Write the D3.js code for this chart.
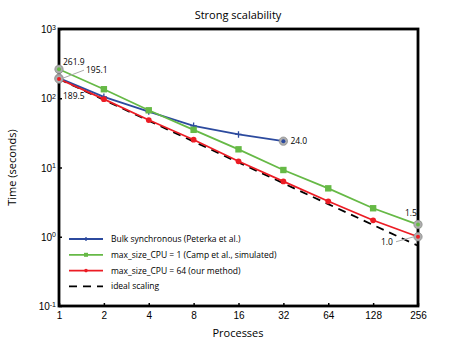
<!DOCTYPE html>
<html>
<head>
<meta charset="utf-8">
<script src="https://cdn.jsdelivr.net/npm/d3@7"></script>
<style>
  body { margin: 0; background: #fff; }
  svg { font-family: "Open Sans", "Lato", sans-serif; }
</style>
</head>
<body>
<div id="chart"></div>
<script>
// data
const processes = [1, 2, 4, 8, 16, 32, 64, 128, 256];
const bulkSync = [195.1, 105, 64, 40, 30, 24.0];
const campSim = [261.9, 135, 67, 35, 18.3, 9.2, 5.0, 2.58, 1.5];
const ourMethod = [189.5, 97, 48.5, 25.2, 12.3, 6.3, 3.25, 1.73, 1.0];
const idealBase = 189.5;
const yTicks = [0.1, 1, 10, 100, 1000];
const yTickExp = ["-1", "0", "1", "2", "3"];

const series = [
  { name: "Bulk synchronous (Peterka et al.)", values: bulkSync, color: "#2c4a9e", marker: "plus" },
  { name: "max_size_CPU = 1 (Camp et al., simulated)", values: campSim, color: "#66b946", marker: "square" },
  { name: "max_size_CPU = 64 (our method)", values: ourMethod, color: "#ec1c24", marker: "dot" }
];

const W = 452, H = 343;
const margin = { top: 29, right: 34, bottom: 37, left: 59 };
const width = W - margin.left - margin.right;
const height = H - margin.top - margin.bottom;

const svg = d3.select("#chart").append("svg")
  .attr("width", W).attr("height", H);

const g = svg.append("g")
  .attr("transform", `translate(${margin.left},${margin.top})`);

const x = d3.scaleLog().base(2).domain([1, 256]).range([0, width]);
const y = d3.scaleLog().domain([0.1, 1000]).range([height, 0]);

// Title & axis labels
svg.append("text")
  .attr("x", 238).attr("y", 19)
  .attr("text-anchor", "middle")
  .style("font-size", "11px")
  .text("Strong scalability");

svg.append("text")
  .attr("x", 238).attr("y", 337)
  .attr("text-anchor", "middle")
  .style("font-size", "11px")
  .text("Processes");

svg.append("text")
  .attr("transform", `translate(16,${margin.top + height / 2}) rotate(-90)`)
  .attr("text-anchor", "middle")
  .style("font-size", "11px")
  .text("Time (seconds)");

// Axes (ticks point inward)
const xAxis = g.append("g")
  .attr("transform", `translate(0,${height})`)
  .call(d3.axisBottom(x).tickValues(processes).tickFormat(d3.format("d"))
    .tickSizeInner(-3).tickSizeOuter(0).tickPadding(6));
xAxis.select(".domain").remove();
xAxis.selectAll(".tick line").attr("stroke-width", 1.5);
xAxis.selectAll("text").style("font-size", "10px").attr("fill", "#000");

const yAxis = g.append("g")
  .call(d3.axisLeft(y).tickValues(yTicks).tickFormat("")
    .tickSizeInner(-3).tickSizeOuter(0));
yAxis.select(".domain").remove();
yAxis.selectAll(".tick line").attr("stroke-width", 1.5);
yAxis.selectAll(".tick").append("text")
  .attr("x", -3).attr("dy", "0.35em")
  .attr("text-anchor", "end")
  .attr("fill", "#000")
  .style("font-size", "10px")
  .each(function(d, i) {
    const t = d3.select(this);
    t.append("tspan").text("10");
    t.append("tspan").attr("dy", "-0.5em").style("font-size", "7px").text(yTickExp[i]);
  });

// frame
g.append("rect")
  .attr("width", width).attr("height", height)
  .attr("fill", "none").attr("stroke", "#000").attr("stroke-width", 2.8);

const line = d3.line()
  .x(d => x(d[0]))
  .y(d => y(d[1]));

// ideal scaling (dashed)
g.append("path")
  .datum(processes.map(p => [p, idealBase / p]))
  .attr("fill", "none")
  .attr("stroke", "#000")
  .attr("stroke-width", 1.8)
  .attr("stroke-dasharray", "8,6")
  .attr("d", line);

function drawMarker(sel, s, size) {
  if (s.marker === "square") {
    sel.append("rect")
      .attr("x", -size).attr("y", -size)
      .attr("width", size * 2).attr("height", size * 2)
      .attr("fill", s.color);
  } else if (s.marker === "dot") {
    sel.append("circle").attr("r", size * 0.9).attr("fill", s.color);
  } else {
    sel.append("path")
      .attr("d", `M${-size},0H${size}M0,${-size}V${size}`)
      .attr("stroke", s.color).attr("stroke-width", 1.3);
  }
}

// highlighted annotation points (grey discs under the markers)
const highlights = [
  { p: 1, v: campSim[0], color: series[1].color },
  { p: 1, v: bulkSync[0], color: series[0].color },
  { p: 1, v: ourMethod[0], color: series[2].color },
  { p: 32, v: bulkSync[5], color: series[0].color },
  { p: 256, v: campSim[8], color: series[1].color },
  { p: 256, v: ourMethod[8], color: series[2].color }
];

series.forEach(s => {
  const pts = s.values.map((v, i) => [processes[i], v]);
  g.append("path")
    .datum(pts)
    .attr("fill", "none")
    .attr("stroke", s.color)
    .attr("stroke-width", 1.8)
    .attr("d", line);
  g.selectAll(null)
    .data(pts)
    .enter().append("g")
    .attr("transform", d => `translate(${x(d[0])},${y(d[1])})`)
    .each(function() { drawMarker(d3.select(this), s, 3.2); });
});

const hl = g.selectAll(".hl")
  .data(highlights)
  .enter().append("g")
  .attr("class", "hl")
  .attr("transform", d => `translate(${x(d.p)},${y(d.v)})`);
hl.append("circle")
  .attr("r", 4.2)
  .attr("fill", "#adadad")
  .attr("stroke", "#8c8c8c")
  .attr("stroke-width", 0.7);
hl.append("circle")
  .attr("r", 2)
  .attr("fill", d => d.color);

// value labels
const labels = [
  { p: 1, v: campSim[0], dx: 4, dy: -4, text: "261.9" },
  { p: 1, v: bulkSync[0], dx: 27, dy: -5, text: "195.1", lead: true },
  { p: 1, v: ourMethod[0], dx: 4, dy: 20, text: "189.5" },
  { p: 32, v: bulkSync[5], dx: 7, dy: 3, text: "24.0" },
  { p: 256, v: campSim[8], dx: -13, dy: -9, text: "1.5" },
  { p: 256, v: ourMethod[8], dx: -37, dy: 8, text: "1.0", lead: true }
];
labels.forEach(l => {
  const px = x(l.p), py = y(l.v);
  if (l.lead) {
    const lx = l.dx > 0 ? px + l.dx - 2 : px + l.dx + 15;
    g.append("line")
      .attr("x1", px + (l.dx > 0 ? 4 : -4)).attr("y1", py)
      .attr("x2", lx).attr("y2", py + l.dy - 3)
      .attr("stroke", "#aaa").attr("stroke-width", 1);
  }
  g.append("text")
    .attr("x", px + l.dx).attr("y", py + l.dy)
    .style("font-size", "8.5px")
    .text(l.text);
});

// legend
const legendItems = series.map(s => ({ name: s.name, color: s.color, marker: s.marker }))
  .concat([{ name: "ideal scaling", color: "#000", marker: null }]);
const legend = g.append("g").attr("transform", "translate(10,210)");
legendItems.forEach((it, i) => {
  const row = legend.append("g").attr("transform", `translate(0,${i * 15.8})`);
  row.append("line")
    .attr("x1", 0).attr("x2", 34)
    .attr("stroke", it.color).attr("stroke-width", 1.8)
    .attr("stroke-dasharray", it.marker ? null : "8,6");
  if (it.marker) {
    const m = row.append("g").attr("transform", "translate(17,0)");
    drawMarker(m, it, 2);
  }
  row.append("text")
    .attr("x", 42).attr("dy", "0.35em")
    .style("font-size", "8.5px")
    .text(it.name);
});
</script>
</body>
</html>
